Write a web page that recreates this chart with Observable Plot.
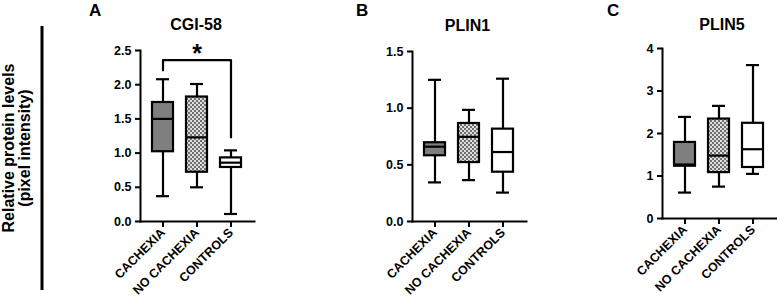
<!DOCTYPE html>
<html>
<head>
<meta charset="utf-8">
<script src="https://cdn.jsdelivr.net/npm/d3@7"></script>
<script src="https://cdn.jsdelivr.net/npm/@observablehq/plot@0.6"></script>
<style>
  html, body { margin: 0; padding: 0; background: #fff; }
  #root { position: relative; width: 777px; height: 305px; overflow: hidden; background: #fff;
          font-family: "Liberation Sans", Arial, sans-serif; }
  #root > .panel { position: absolute; top: 0; }
  #overlay { position: absolute; left: 0; top: 0; pointer-events: none; }
</style>
</head>
<body>
<div id="root">
  <svg width="0" height="0" style="position:absolute">
    <defs>
      <pattern id="chk" width="4" height="4" patternUnits="userSpaceOnUse">
        <rect width="4" height="4" fill="#dedede"></rect>
        <rect width="2" height="2" fill="#707070"></rect>
        <rect x="2" y="2" width="2" height="2" fill="#707070"></rect>
      </pattern>
    </defs>
  </svg>
</div>
<script>
// ---- data ----
const categories = ["CACHEXIA", "NO CACHEXIA", "CONTROLS"];

// Panel A: CGI-58
const cgiTitle = "CGI-58";
const cgiLow    = [0.37, 0.50, 0.11];
const cgiQ1     = [1.02, 0.72, 0.79];
const cgiMedian = [1.50, 1.23, 0.86];
const cgiQ3     = [1.74, 1.82, 0.93];
const cgiHigh   = [2.08, 2.01, 1.04];
const cgiTicks  = [0, 0.5, 1.0, 1.5, 2.0, 2.5];

// significance bracket (CACHEXIA vs CONTROLS)
const sigX = ["CACHEXIA", "CACHEXIA", "CONTROLS", "CONTROLS"];
const sigY = [2.21, 2.36, 2.36, 1.23];
const sigLabel = ["*"];

// Panel B: PLIN1
const plin1Title = "PLIN1";
const plin1Low    = [0.345, 0.365, 0.255];
const plin1Q1     = [0.58, 0.52, 0.435];
const plin1Median = [0.66, 0.747, 0.613];
const plin1Q3     = [0.695, 0.865, 0.815];
const plin1High   = [1.25, 0.985, 1.26];
const plin1Ticks  = [0, 0.5, 1.0, 1.5];

// Panel C: PLIN5
const plin5Title = "PLIN5";
const plin5Low    = [0.61, 0.75, 1.05];
const plin5Q1     = [1.23, 1.08, 1.20];
const plin5Median = [1.27, 1.48, 1.63];
const plin5Q3     = [1.79, 2.34, 2.24];
const plin5High   = [2.39, 2.65, 3.61];
const plin5Ticks  = [0, 1, 2, 3, 4];

const yLabel1 = "Relative protein levels";
const yLabel2 = "(pixel intensity)";

// ---- styles ----
const boxFills = ["#7f7f7f", "url(#chk)", "#ffffff"];

function panel(o) {
  const data = categories.map((c, i) => ({
    cat: c, low: o.low[i], q1: o.q1[i], median: o.median[i], q3: o.q3[i], high: o.high[i]
  }));
  return Plot.plot({
    width: o.width, height: 305,
    marginTop: o.marginTop, marginBottom: o.marginBottom,
    marginLeft: 60, marginRight: o.marginRight,
    x: {type: "band", domain: categories, paddingInner: 0.377, paddingOuter: 0.34},
    y: {domain: [0, o.ymax]},
    color: {type: "ordinal", domain: categories, range: boxFills},
    style: {fontFamily: "'Liberation Sans', Arial, sans-serif", fontSize: "12.5px", fontWeight: "bold",
            color: "black", background: "transparent", overflow: "visible"},
    marks: [
      Plot.ruleX(data, {x: "cat", y1: "low", y2: "high", stroke: "black", strokeWidth: 2.2}),
      Plot.tickY(data, {x: "cat", y: "low", insetLeft: 4, insetRight: 4, stroke: "black", strokeWidth: 2.2}),
      Plot.tickY(data, {x: "cat", y: "high", insetLeft: 4, insetRight: 4, stroke: "black", strokeWidth: 2.2}),
      Plot.barY(data, {x: "cat", y1: "q1", y2: "q3", fill: "cat", stroke: "black", strokeWidth: 2.2}),
      Plot.tickY(data, {x: "cat", y: "median", stroke: "black", strokeWidth: 2.2}),
      Plot.axisY({ticks: o.ticks, tickFormat: o.fmt, tickSize: 5, tickPadding: 4, strokeWidth: 2, label: null}),
      Plot.axisX({tickRotate: -45, tickSize: 6, tickPadding: 3, strokeWidth: 2, label: null}),
      Plot.frame({anchor: "left", strokeWidth: 2}),
      Plot.frame({anchor: "bottom", strokeWidth: 2}),
      ...(o.extra || [])
    ]
  });
}

const root = document.getElementById("root");
function place(svg, left) {
  svg.classList.add("panel");
  svg.style.left = left + "px";
  root.appendChild(svg);
}

const sigData = sigX.map((x, i) => ({x, y: sigY[i]}));

place(panel({
  low: cgiLow, q1: cgiQ1, median: cgiMedian, q3: cgiQ3, high: cgiHigh,
  ticks: cgiTicks, fmt: d3.format(".1f"), ymax: 2.5,
  width: 180, marginRight: 6, marginTop: 50, marginBottom: 84,
  extra: [
    Plot.line(sigData, {x: "x", y: "y", stroke: "black", strokeWidth: 2.2}),
    Plot.text(sigLabel, {x: () => categories[1], y: () => 2.45, text: d => d, fontSize: 25, fontWeight: "bold"})
  ]
}), 80);

place(panel({
  low: plin1Low, q1: plin1Q1, median: plin1Median, q3: plin1Q3, high: plin1High,
  ticks: plin1Ticks, fmt: d3.format(".1f"), ymax: 1.5,
  width: 180, marginRight: 6, marginTop: 51, marginBottom: 84
}), 352);

place(panel({
  low: plin5Low, q1: plin5Q1, median: plin5Median, q3: plin5Q3, high: plin5High,
  ticks: plin5Ticks, fmt: d3.format("d"), ymax: 4,
  width: 175, marginRight: 1, marginTop: 48, marginBottom: 87
}), 602);

// overlay: panel letters, titles, shared y label
const ns = "http://www.w3.org/2000/svg";
const ov = document.createElementNS(ns, "svg");
ov.setAttribute("id", "overlay");
ov.setAttribute("width", 777);
ov.setAttribute("height", 305);
function txt(s, attrs) {
  const t = document.createElementNS(ns, "text");
  for (const k in attrs) t.setAttribute(k, attrs[k]);
  t.textContent = s;
  ov.appendChild(t);
}
const F = "'Liberation Sans', Arial, sans-serif";
txt("A", {x: 89, y: 15.5, "font-family": F, "font-size": 17, "font-weight": "bold"});
txt("B", {x: 356, y: 15.5, "font-family": F, "font-size": 17, "font-weight": "bold"});
txt("C", {x: 607, y: 15.5, "font-family": F, "font-size": 17, "font-weight": "bold"});
txt(cgiTitle, {x: 196, y: 29.5, "text-anchor": "middle", "font-family": F, "font-size": 16, "font-weight": "bold"});
txt(plin1Title, {x: 467.5, y: 30.5, "text-anchor": "middle", "font-family": F, "font-size": 16, "font-weight": "bold"});
txt(plin5Title, {x: 722, y: 29.5, "text-anchor": "middle", "font-family": F, "font-size": 16, "font-weight": "bold"});
txt(yLabel1, {transform: "translate(14,148) rotate(-90)", "text-anchor": "middle", "font-family": F, "font-size": 16, "font-weight": "bold"});
txt(yLabel2, {transform: "translate(30,148) rotate(-90)", "text-anchor": "middle", "font-family": F, "font-size": 16, "font-weight": "bold"});
const ln = document.createElementNS(ns, "line");
ln.setAttribute("x1", 42); ln.setAttribute("x2", 42);
ln.setAttribute("y1", 26); ln.setAttribute("y2", 290);
ln.setAttribute("stroke", "black"); ln.setAttribute("stroke-width", 3);
ov.appendChild(ln);
root.appendChild(ov);
</script>
</body>
</html>
